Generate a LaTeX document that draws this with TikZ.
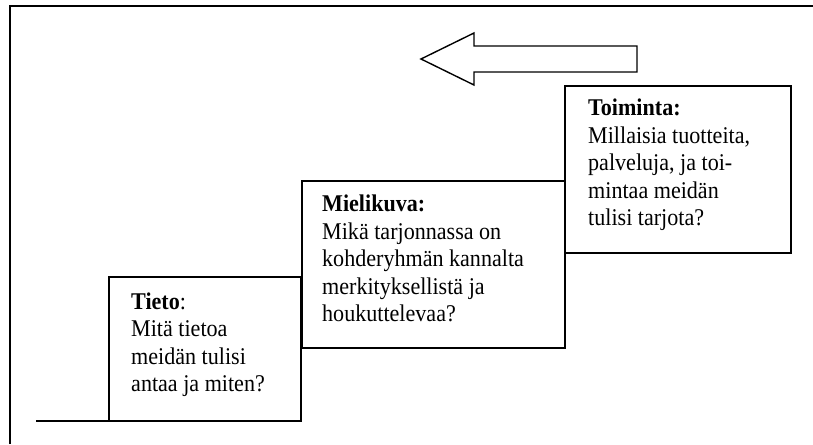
\documentclass[tikz,border=0pt]{standalone}
\usepackage{fontspec}
\setmainfont{Liberation Serif}[FakeStretch=0.92]
\begin{document}
\begin{tikzpicture}[x=1pt,y=-1pt,
  stepbox/.style={draw=black,line width=2.2pt,fill=white,inner sep=0pt,outer sep=0pt,anchor=north west},
  steptext/.style={anchor=base west,inner sep=0pt,font=\fontsize{24}{27.5}\selectfont},
  frameline/.style={draw=black,line width=2.2pt},
  arrowshape/.style={draw=black,line width=1.4pt,fill=white,line join=miter}]
\useasboundingbox (0,0) rectangle (813,444);
% frame (only left and top sides visible)
\draw[frameline] (10,444) -- (10,5.7) -- (813,5.7);
% arrow
\draw[arrowshape] (421,59) -- (474,33) -- (474,46) -- (637,46) -- (637,72) -- (474,72) -- (474,85) -- cycle;
% boxes
\node[stepbox,minimum width=226pt,minimum height=167pt] (toim) at (565,86) {};
\node[stepbox,minimum width=263pt,minimum height=167pt] (miel) at (302,181) {};
\node[stepbox,minimum width=192pt,minimum height=144pt] (tieto) at (109,277) {};
% ground line
\coordinate (g0) at (36,421);
\draw[frameline] (g0) -- (tieto.south west);
% texts
\node[steptext] (toimtxt) at (588,115.7) {\begin{tabular}[t]{@{}l@{}}\textbf{Toiminta:}\\Millaisia tuotteita,\\palveluja, ja toi-\\mintaa meidän\\tulisi tarjota?\end{tabular}};
\node[steptext] (mieltxt) at (322,211.5) {\begin{tabular}[t]{@{}l@{}}\textbf{Mielikuva:}\\Mikä tarjonnassa on\\kohderyhmän kannalta\\merkityksellistä ja\\houkuttelevaa?\end{tabular}};
\node[steptext] (tietotxt) at (131,309) {\begin{tabular}[t]{@{}l@{}}\textbf{Tieto}:\\Mitä tietoa\\meidän tulisi\\antaa ja miten?\end{tabular}};
\end{tikzpicture}
\end{document}
